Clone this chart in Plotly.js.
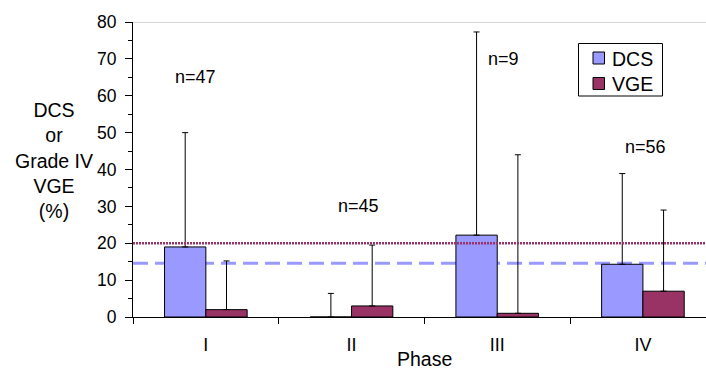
<!DOCTYPE html>
<html><head><meta charset="utf-8">
<script src="https://cdn.plot.ly/plotly-3.0.1.min.js"></script>
<style>html,body{margin:0;padding:0;background:#fff}#chart{width:706px;height:371px}</style>
</head><body><div id="chart"></div>
<script>
// ---- data ----
const phases = ['I', 'II', 'III', 'IV'];
const seriesNames = ['DCS', 'VGE'];
const dcsValues = [19, 0, 22.2, 14.3];
const dcsUpper = [50, 6.4, 77.3, 38.9];
const vgeValues = [2, 3, 1, 7];
const vgeUpper = [15.2, 19.5, 44, 29];
const sampleLabels = ['n=47', 'n=45', 'n=9', 'n=56'];
const dcsReference = 14.6;
const vgeReference = 20;
const yTicks = [0, 10, 20, 30, 40, 50, 60, 70, 80];

// ---- label placement (layout, not data) ----
const labelDx = [-0.07, 0.05, 0.04, 0.02];
const labelY = [65, 30, 70, 46];

const FONT = 'Arial, "Liberation Sans", sans-serif';
const COLORS = ['#9999FF', '#993366'];

// plot area geometry in px (for paper coordinate helpers)
const L = 133, T = 22, PW = 573, PH = 295;
const px = v => (v - L) / PW;
const py = v => (T + PH - v) / PH;

const dcsErr = dcsUpper.map((u, i) => u - dcsValues[i]);
const vgeErr = vgeUpper.map((u, i) => u - vgeValues[i]);
const zeros = phases.map(() => 0);

function barTrace(name, values, err, color) {
  return {
    type: 'bar', name: name, x: phases, y: values,
    marker: {color: color, line: {color: '#000', width: 1}},
    error_y: {type: 'data', symmetric: false, array: err, arrayminus: zeros,
              color: '#000', thickness: 1, width: 3},
    hoverinfo: 'skip', showlegend: false
  };
}
const traces = [
  barTrace(seriesNames[0], dcsValues, dcsErr, COLORS[0]),
  barTrace(seriesNames[1], vgeValues, vgeErr, COLORS[1])
];

const annotations = sampleLabels.map((t, i) => ({
  text: t, x: i + labelDx[i], y: labelY[i], xref: 'x', yref: 'y',
  showarrow: false, font: {family: FONT, size: 18, color: '#000'},
  xanchor: 'center', yanchor: 'middle'
}));
annotations.push({
  text: 'DCS<br>or<br>Grade IV<br>VGE<br>(%)', xref: 'paper', yref: 'paper',
  x: px(53.5), y: py(160), showarrow: false, align: 'center',
  xanchor: 'center', yanchor: 'middle',
  font: {family: FONT, size: 19.5, color: '#000'}
});
annotations.push({
  text: 'Phase', xref: 'paper', yref: 'paper', x: px(424.5), y: py(370.5),
  showarrow: false, xanchor: 'center', yanchor: 'bottom', borderpad: 0,
  font: {family: FONT, size: 19.5, color: '#000'}
});

// legend (drawn manually for exact box geometry)
const legendShapes = [
  {type: 'rect', xref: 'paper', yref: 'paper', x0: px(578.5), x1: px(662.5), y0: py(43.5), y1: py(96),
   fillcolor: '#fff', line: {color: '#000', width: 1}, layer: 'above'}
];
const legendRows = [58, 83.5];
seriesNames.forEach((n, i) => {
  legendShapes.push({type: 'rect', xref: 'paper', yref: 'paper',
    x0: px(593), x1: px(604.5), y0: py(legendRows[i] - 6), y1: py(legendRows[i] + 6),
    fillcolor: COLORS[i], line: {color: '#000', width: 1}, layer: 'above'});
  annotations.push({text: n, xref: 'paper', yref: 'paper', x: px(609.5), y: py(legendRows[i] + 0.5),
    xanchor: 'left', yanchor: 'middle', showarrow: false,
    font: {family: FONT, size: 19.5, color: '#000'}});
});

const layout = {
  width: 706, height: 371,
  margin: {l: L, r: 706 - L - PW, t: T, b: 371 - T - PH, pad: 0},
  paper_bgcolor: '#fff', plot_bgcolor: '#fff',
  barmode: 'group', bargap: 0.433, bargroupgap: 0,
  showlegend: false,
  xaxis: {
    type: 'category', range: [-0.5, 3.433], fixedrange: true,
    showline: true, linecolor: '#000', linewidth: 1,
    ticks: 'outside', tickson: 'boundaries', ticklen: 6, tickcolor: '#000', tickwidth: 1,
    ticklabelstandoff: 11,
    showgrid: false, zeroline: false,
    tickfont: {family: FONT, size: 18, color: '#000'}
  },
  yaxis: {
    range: [0, 80], fixedrange: true,
    tickvals: yTicks, ticktext: yTicks.map(String),
    showline: true, linecolor: '#000', linewidth: 1,
    ticks: 'outside', ticklen: 7, tickcolor: '#000', tickwidth: 1,
    ticklabelstandoff: 5,
    minor: {dtick: 5, ticks: 'outside', ticklen: 4, tickcolor: '#000', tickwidth: 1, showgrid: false},
    showgrid: false, zeroline: false,
    tickfont: {family: FONT, size: 17.5, color: '#000'}
  },
  shapes: [
    {type: 'line', xref: 'paper', yref: 'y', x0: 0, x1: 1, y0: dcsReference, y1: dcsReference,
     layer: 'below', line: {color: COLORS[0], width: 3, dash: '15px,7px'}},
    {type: 'line', xref: 'paper', yref: 'y', x0: 0, x1: 1, y0: vgeReference, y1: vgeReference,
     layer: 'above', line: {color: COLORS[1], width: 2.5, dash: '2px,1px'}},
    {type: 'line', xref: 'paper', yref: 'y', x0: 0, x1: 1, y0: 80, y1: 80,
     layer: 'above', line: {color: '#b0b0b0', width: 1}}
  ].concat(legendShapes),
  annotations: annotations
};

Plotly.newPlot('chart', traces, layout, {displayModeBar: false, staticPlot: true});
</script>
</body></html>
